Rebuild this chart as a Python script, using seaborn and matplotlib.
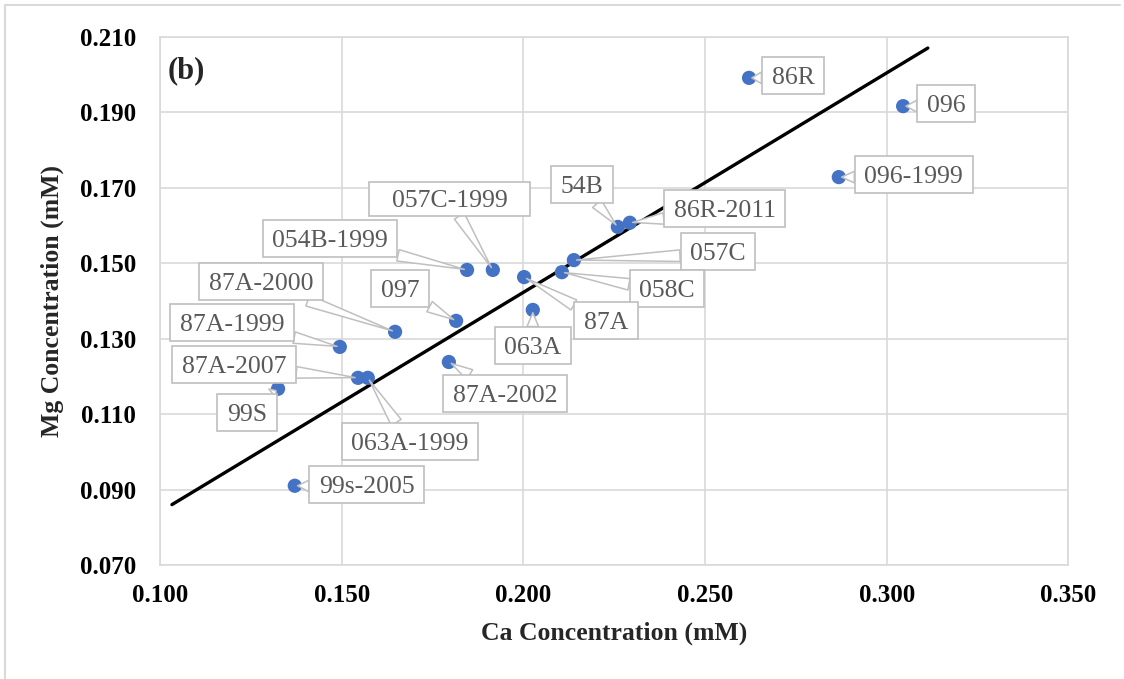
import matplotlib
matplotlib.use("Agg")
import matplotlib.pyplot as plt
import seaborn as sns
import pandas as pd
from matplotlib.path import Path
from matplotlib.lines import Line2D

# ---- data ----
labels = ["86R", "096", "096-1999", "54B", "86R-2011", "057C", "058C", "87A",
          "063A", "054B-1999", "057C-1999", "097", "87A-2000", "87A-1999",
          "87A-2002", "87A-2007", "063A-1999", "99S", "99s-2005"]
ca = [0.2621, 0.3045, 0.2868, 0.2260, 0.2293, 0.2139, 0.2106, 0.2002,
      0.2026, 0.1845, 0.1916, 0.1815, 0.1647, 0.1495,
      0.1795, 0.1545, 0.1572, 0.1325, 0.1371]
mg = [0.1991, 0.1916, 0.1728, 0.1596, 0.1607, 0.1508, 0.1476, 0.1463,
      0.1376, 0.1482, 0.1482, 0.1347, 0.1318, 0.1278,
      0.1238, 0.1196, 0.1196, 0.1167, 0.0910]
trend_x = [0.1033, 0.3113]
trend_y = [0.0860, 0.2070]
x_ticks = [0.100, 0.150, 0.200, 0.250, 0.300, 0.350]
y_ticks = [0.070, 0.090, 0.110, 0.130, 0.150, 0.170, 0.190, 0.210]

# label offsets in pixels (layout only)
offsets = {
    "86R": (44, 0), "096": (43, 0), "096-1999": (75, 0), "54B": (-36, -40),
    "86R-2011": (95, -12), "057C": (144, -6), "058C": (105, 19), "87A": (82, 46),
    "063A": (0, 38), "054B-1999": (-137, -29), "057C-1999": (-43, -69),
    "097": (-56, -30), "87A-2000": (-134, -48), "87A-1999": (-108, -22),
    "87A-2002": (56, 34), "87A-2007": (-124, -11), "063A-1999": (42, 66),
    "99S": (-31, 26), "99s-2005": (72, 1),
}


def make_box(padx, pad_bottom, pad_top):
    def box(x0, y0, width, height, mutation_size):
        xa = x0 - padx * mutation_size
        xb = x0 + width + padx * mutation_size
        ya = y0 - pad_bottom * mutation_size
        yb = y0 + height + pad_top * mutation_size
        return Path([(xa, ya), (xb, ya), (xb, yb), (xa, yb), (xa, ya)],
                    closed=True)
    return box


normal_box = make_box(0.37, 0.20, 0.38)
wide_box = make_box(0.88, 0.14, 0.30)

df = pd.DataFrame({"ca": ca, "mg": mg, "label": labels})

sns.set_style("white")
plt.rcParams["font.family"] = ["Liberation Serif", "DejaVu Serif"]

fig = plt.figure(figsize=(11.24, 6.79), dpi=100)
ax = fig.add_axes([0.1423, 0.1679, 0.8083, 0.7780])

# outer chart border (left and top visible)
fig.add_artist(Line2D([4.5 / 1124, 4.5 / 1124], [0, 1 - 4.5 / 679],
                      transform=fig.transFigure, color="#d9d9d9", lw=1.5))
fig.add_artist(Line2D([4.5 / 1124, 1 - 4.5 / 1124], [1 - 4.5 / 679, 1 - 4.5 / 679],
                      transform=fig.transFigure, color="#d9d9d9", lw=1.5))

ax.set_xlim(0.100, 0.350)
ax.set_ylim(0.070, 0.210)
ax.set_xticks(x_ticks)
ax.set_yticks(y_ticks)
ax.set_xticklabels([f"{v:.3f}" for v in x_ticks], fontweight="bold", fontsize=18)
ax.set_yticklabels([f"{v:.3f}" for v in y_ticks], fontweight="bold", fontsize=18)
ax.tick_params(axis="x", length=0, pad=14, colors="black")
ax.tick_params(axis="y", length=0, pad=17, colors="black")
ax.grid(True, color="#d9d9d9", linewidth=1.2)
ax.set_axisbelow(True)
for s in ax.spines.values():
    s.set_color("#d9d9d9")
    s.set_linewidth(1.2)

sns.lineplot(x=trend_x, y=trend_y, ax=ax, color="black", linewidth=2.4, zorder=2)
sns.scatterplot(data=df, x="ca", y="mg", ax=ax, color="#4472C4", s=105,
                edgecolor="none", zorder=3)

for lab, xv, yv in zip(labels, ca, mg):
    dx, dy = offsets[lab]
    style = wide_box if lab == "057C-1999" else normal_box
    ax.annotate(lab, xy=(xv, yv), xytext=(dx * 0.72, -dy * 0.72),
                textcoords="offset points", ha="center", va="center",
                fontsize=18.5, color="#595959",
                bbox=dict(boxstyle=style, fc="white", ec="#bfbfbf", lw=1.2),
                arrowprops=dict(arrowstyle="wedge,tail_width=0.45,shrink_factor=0.5",
                                fc="white", ec="#bfbfbf", lw=1.1,
                                shrinkA=0, shrinkB=2),
                zorder=4)

ax.text(0.008, 0.935, "(b)", transform=ax.transAxes, fontsize=22,
        fontweight="bold", ha="left", va="center")

ax.set_xlabel("Ca Concentration (mM)", fontsize=18.5, fontweight="bold")
ax.set_ylabel("Mg Concentration (mM)", fontsize=18.5, fontweight="bold")
ax.xaxis.set_label_coords(0.5, -(633 - 565) / (0.7780 * 679))
ax.yaxis.set_label_coords(-(160 - 52) / (0.8083 * 1124), 0.5)
ax.xaxis.label.set_va("center")
ax.yaxis.label.set_va("center")

fig.savefig("out.png", dpi=100)
